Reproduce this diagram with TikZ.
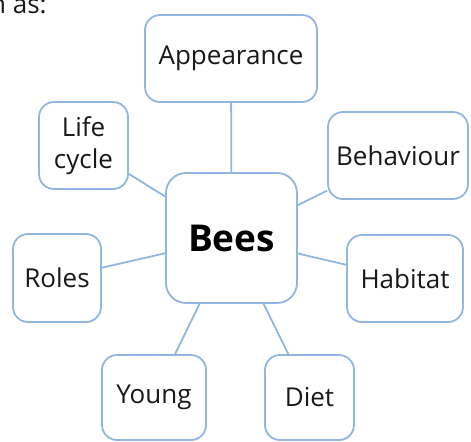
\documentclass[tikz,border=0pt]{standalone}
\usepackage{fontspec}
\setmainfont{Open Sans}
\usepackage{tikz}
\usepackage{xcolor}
\definecolor{boxline}{RGB}{146, 182, 224}
\definecolor{textdark}{RGB}{25, 25, 25}

\tikzset{
  topic/.style={draw=boxline, fill=white, line width=0.9pt, rounded corners=7.5pt, inner sep=0pt, align=center, text=textdark, font=\fontsize{13}{16}\selectfont},
  hub/.style={topic, rounded corners=10pt, font=\fontsize{18.5}{22}\selectfont\bfseries, text=black},
  link/.style={draw=boxline, line width=0.9pt}
}

\begin{document}
\begin{tikzpicture}[x=0.5pt, y=-0.5pt]
      \useasboundingbox (0, 0) rectangle (471, 441);

      \node[anchor=base east, inner sep=0pt, text=textdark, font=\fontsize{13}{16}\selectfont] (intro) at (47, 13) {h as:};

      \node[hub, minimum width=65.5pt, minimum height=65pt] (bees) at (231.5, 238) {Bees};

      \node[topic, minimum width=86pt, minimum height=43.5pt] (appearance) at (231, 58.5) {Appearance};
      \node[topic, minimum width=44.5pt, minimum height=43.5pt] (lifecycle) at (83.5, 145.5) {Life\\cycle};
      \node[topic, minimum width=70pt, minimum height=43.5pt] (behaviour) at (398, 155.5) {Behaviour};
      \node[topic, minimum width=44pt, minimum height=44pt] (roles) at (57, 278) {Roles};
      \node[topic, minimum width=58pt, minimum height=43.5pt] (habitat) at (405, 278.5) {Habitat};
      \node[topic, minimum width=52pt, minimum height=42.5pt] (young) at (154, 397.5) {Young};
      \node[topic, minimum width=44.5pt, minimum height=42.5pt] (diet) at (309.5, 397.5) {Diet};

      \foreach \leaf in {appearance, lifecycle, behaviour, roles, habitat, young, diet}
        \draw[link] (bees) -- (\leaf);
    \end{tikzpicture}
\end{document}
